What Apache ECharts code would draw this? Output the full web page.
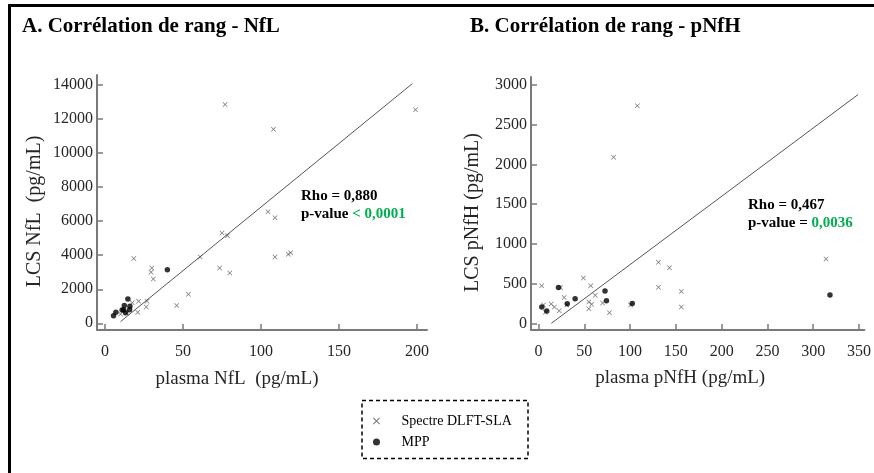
<!DOCTYPE html>
<html>
<head>
<meta charset="utf-8">
<script src="https://cdn.jsdelivr.net/npm/echarts@6/dist/echarts.min.js"></script>
<style>html,body{margin:0;padding:0;background:#fff}#c{width:874px;height:473px}</style>
</head>
<body>
<div id="c"></div>
<script>
// Panel A: NfL (plasma pg/mL, LCS pg/mL)
const nflSpectre = [[77,12850],[199,12550],[108,11400],[104.5,6550],[109,6200],[75,5300],[78.5,5150],[61,3900],[18.5,3800],[109,3900],[117.5,4050],[119,4150],[30,3250],[29.5,3000],[31,2600],[73.5,3250],[80,2950],[53.5,1700],[46,1050],[26.5,950],[21,650],[21.5,1300],[17.5,1200],[27,1300],[14,600],[10,550]];
const nflMPP = [[5.5,450],[7,650],[14.7,1420],[12.4,1050],[16,1000],[12,800],[15.8,800],[11,780],[13.2,620],[40,3150]];
const nflLine = [[10,100],[197,14080]];
const nflXTicks = [0,50,100,150,200];
const nflYTicks = [0,2000,4000,6000,8000,10000,12000,14000];

// Panel B: pNfH
const pnfhSpectre = [[108,2740],[82,2090],[314,810],[131,770],[143,700],[131,455],[156,400],[156,205],[49,570],[57,472],[62,352],[55,270],[58,240],[55,182],[70,255],[77.5,132],[100.5,230],[3.5,472],[24,450],[28,324],[31,232],[13.8,242],[17.3,205],[22.6,157],[5.5,230],[7.5,140]];
const pnfhMPP = [[3.6,207],[9,155],[21.8,450],[31.4,246],[40,308],[72.6,407],[74.2,283],[102.4,250],[318.3,357]];
const pnfhLine = [[14,0],[349,2880]];
const pnfhXTicks = [0,50,100,150,200,250,300,350];
const pnfhYTicks = [0,500,1000,1500,2000,2500,3000];

const SERIF = 'Liberation Serif';
const CROSS = 'path://M0,1L1,0L5,4L9,0L10,1L6,5L10,9L9,10L5,6L1,10L0,9L4,5Z';
const AXC = '#7a7a7a';
const plain = v => String(v);

function xAx(gi, min, max, ticks, name, padR, gap) {
  return {
    type: 'value', gridIndex: gi, min: min, max: max, position: 'bottom',
    name: name, nameLocation: 'middle', nameGap: gap,
    nameTextStyle: {fontFamily: SERIF, fontSize: 19, color: '#262626', padding: [0, padR, 0, 0]},
    axisLine: {show: true, onZero: false, lineStyle: {color: AXC, width: 2}},
    axisTick: {show: true, inside: true, length: 6, customValues: ticks, lineStyle: {color: AXC, width: 1.5}},
    axisLabel: {customValues: ticks, formatter: plain, fontFamily: SERIF, fontSize: 16, color: '#262626', margin: 14},
    splitLine: {show: false}
  };
}
function yAx(gi, min, max, ticks, name, gap) {
  return {
    type: 'value', gridIndex: gi, min: min, max: max, position: 'left',
    name: name, nameLocation: 'middle', nameGap: gap,
    nameTextStyle: {fontFamily: SERIF, fontSize: 20, color: '#262626', padding: [0, 18, 0, 0]},
    axisLine: {show: true, onZero: false, lineStyle: {color: AXC, width: 2}},
    axisTick: {show: true, inside: true, length: 6, customValues: ticks, lineStyle: {color: AXC, width: 1.5}},
    axisLabel: {customValues: ticks, formatter: plain, fontFamily: SERIF, fontSize: 16, color: '#262626', margin: 4},
    splitLine: {show: false}
  };
}
function crossSeries(xi, data) {
  return {name: 'Spectre DLFT-SLA', type: 'scatter', xAxisIndex: xi, yAxisIndex: xi, data: data,
    symbol: CROSS, symbolSize: 5, itemStyle: {color: '#555'}, z: 3};
}
function dotSeries(xi, data) {
  return {name: 'MPP', type: 'scatter', xAxisIndex: xi, yAxisIndex: xi, data: data,
    symbol: 'circle', symbolSize: 5.5, itemStyle: {color: '#000'}, z: 4};
}
function lineSeries(xi, data) {
  return {type: 'line', xAxisIndex: xi, yAxisIndex: xi, data: data, symbol: 'none',
    lineStyle: {color: '#555', width: 1}, silent: true, z: 2};
}

const chart = echarts.init(document.getElementById('c'), null, {renderer: 'canvas'});
chart.setOption({
  animation: false,
  backgroundColor: '#fff',
  grid: [
    {left: 97, right: 447, top: 75, bottom: 143, containLabel: false},
    {left: 531, right: 6, top: 77, bottom: 143, containLabel: false}
  ],
  xAxis: [
    xAx(0, -5.1, 206.4, nflXTicks, 'plasma NfL  (pg/mL)', 50, 40),
    xAx(1, -8.2, 355.9, pnfhXTicks, 'plasma pNfH (pg/mL)', 35, 39)
  ],
  yAxis: [
    yAx(0, -394, 14588, nflYTicks, 'LCS NfL  (pg/mL)', 52),
    yAx(1, -84, 3101, pnfhYTicks, 'LCS pNfH (pg/mL)', 48)
  ],
  legend: {
    data: ['Spectre DLFT-SLA', 'MPP'], orient: 'vertical', left: 368, top: 409,
    itemWidth: 28, itemHeight: 7, itemGap: 7,
    textStyle: {fontFamily: SERIF, fontWeight: 'normal', fontSize: 14, color: '#000', padding: [0, 0, 0, 6]}
  },
  series: [
    lineSeries(0, nflLine), crossSeries(0, nflSpectre), dotSeries(0, nflMPP),
    lineSeries(1, pnfhLine), crossSeries(1, pnfhSpectre), dotSeries(1, pnfhMPP)
  ],
  graphic: [
    {type: 'line', shape: {x1: 9.5, y1: 4, x2: 9.5, y2: 473}, style: {stroke: '#000', lineWidth: 3}},
    {type: 'line', shape: {x1: 8, y1: 5.5, x2: 874, y2: 5.5}, style: {stroke: '#000', lineWidth: 3}},
    {type: 'rect', shape: {x: 362, y: 400.5, width: 166, height: 58}, style: {fill: 'none', stroke: '#000', lineWidth: 1.5, lineDash: [4, 3]}},
    {type: 'text', left: 22, top: 16, style: {text: 'A. Corrélation de rang - NfL', font: 'bold 21px ' + SERIF, fill: '#000'}},
    {type: 'text', left: 470, top: 16, style: {text: 'B. Corrélation de rang - pNfH', font: 'bold 21px ' + SERIF, fill: '#000'}},
    {type: 'text', left: 301, top: 189, style: {text: 'Rho = 0,880', font: 'bold 15px ' + SERIF, fill: '#000'}},
    {type: 'text', left: 301, top: 207, style: {rich: {a: {font: 'bold 15px ' + SERIF, fill: '#000'}, g: {font: 'bold 15px ' + SERIF, fill: '#00b050'}}, text: '{a|p-value }{g|< 0,0001}'}},
    {type: 'text', left: 748, top: 198, style: {text: 'Rho = 0,467', font: 'bold 15px ' + SERIF, fill: '#000'}},
    {type: 'text', left: 748, top: 216, style: {rich: {a: {font: 'bold 15px ' + SERIF, fill: '#000'}, g: {font: 'bold 15px ' + SERIF, fill: '#00b050'}}, text: '{a|p-value = }{g|0,0036}'}}
  ]
});
</script>
</body>
</html>
